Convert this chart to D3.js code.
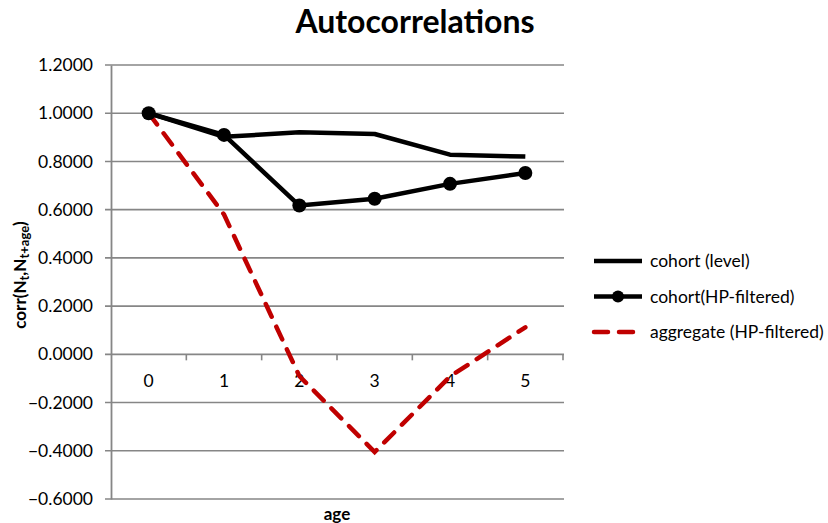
<!DOCTYPE html>
<html>
<head>
<meta charset="utf-8">
<script src="https://cdn.jsdelivr.net/npm/d3@7/dist/d3.min.js"></script>
<style>
  html, body { margin: 0; padding: 0; background: #fff; }
  svg { display: block; font-family: Lato, "Open Sans", sans-serif; }
</style>
</head>
<body>
<svg id="chart" width="828" height="523"></svg>
<script>
// Autocorrelation of N_t with N_{t+age}, by age
const ages = [0, 1, 2, 3, 4, 5];
const cohortLevel = [1.0, 0.902, 0.921, 0.914, 0.828, 0.820];
const cohortHP = [1.0, 0.910, 0.617, 0.645, 0.707, 0.752];
const aggregateHP = [1.0, 0.580, -0.090, -0.405, -0.092, 0.112];
const yTicks = [-0.6, -0.4, -0.2, 0.0, 0.2, 0.4, 0.6, 0.8, 1.0, 1.2];

const svg = d3.select("#chart");
const plotLeft = 111, plotRight = 563, plotTop = 65, plotBottom = 499;

const x = d3.scaleBand().domain(ages).range([plotLeft, plotRight]).paddingInner(0).paddingOuter(0);
const y = d3.scaleLinear().domain([-0.6, 1.2]).range([plotBottom, plotTop]);
const cx = d => x(d) + x.bandwidth() / 2;

const grey = "#868686";
const tickFont = 17.5;

// horizontal gridlines
svg.append("g")
  .selectAll("line")
  .data(yTicks)
  .join("line")
  .attr("x1", plotLeft - 6).attr("x2", plotRight + 1)
  .attr("y1", d => y(d)).attr("y2", d => y(d))
  .attr("stroke", grey).attr("stroke-width", 1.6);

// y axis
const yAxis = d3.axisLeft(y).tickValues(yTicks).tickFormat(d3.format(".4f")).tickSize(0).tickPadding(18);
const gy = svg.append("g").attr("transform", `translate(${plotLeft},0)`).call(yAxis);
gy.select(".domain").attr("stroke", grey).attr("stroke-width", 1.8);
gy.selectAll("text").attr("font-size", tickFont).attr("fill", "#000").attr("font-family", "Lato, sans-serif");

// x axis on the zero line
const xAxis = d3.axisBottom(x).tickSize(0).tickPadding(20);
const gx = svg.append("g").attr("transform", `translate(0,${y(0)})`).call(xAxis);
gx.select(".domain").remove();
gx.selectAll("text").attr("font-size", tickFont).attr("fill", "#000").attr("font-family", "Lato, sans-serif");
// category boundary ticks
const bounds = ages.slice(1).map(a => x(a)).concat([plotRight]);
svg.append("g").selectAll("line").data(bounds).join("line")
  .attr("x1", d => d).attr("x2", d => d)
  .attr("y1", y(0)).attr("y2", y(0) + 6)
  .attr("stroke", grey).attr("stroke-width", 1.6);

const line = d3.line().x((d, i) => cx(ages[i])).y(d => y(d));

// aggregate (HP-filtered)
svg.append("path").datum(aggregateHP).attr("d", line)
  .attr("fill", "none").attr("stroke", "#c00000").attr("stroke-width", 4.5)
  .attr("stroke-dasharray", "14,11").attr("stroke-linecap", "round");

// cohort (level)
svg.append("path").datum(cohortLevel).attr("d", line)
  .attr("fill", "none").attr("stroke", "#000").attr("stroke-width", 4.5).attr("stroke-linejoin", "round");

// cohort (HP-filtered)
svg.append("path").datum(cohortHP).attr("d", line)
  .attr("fill", "none").attr("stroke", "#000").attr("stroke-width", 4.5).attr("stroke-linejoin", "round");
svg.append("g").selectAll("circle").data(cohortHP).join("circle")
  .attr("cx", (d, i) => cx(ages[i])).attr("cy", d => y(d)).attr("r", 7).attr("fill", "#000");

// title
svg.append("text").attr("x", 415).attr("y", 33).attr("text-anchor", "middle")
  .attr("font-size", 32).attr("font-weight", "bold").text("Autocorrelations");

// axis titles
svg.append("text").attr("x", 337).attr("y", 520).attr("text-anchor", "middle")
  .attr("font-size", 17).attr("font-weight", "bold").text("age");

const yt = svg.append("text").attr("transform", "translate(26,275) rotate(-90)")
  .attr("text-anchor", "middle").attr("font-size", 17).attr("font-weight", "bold");
yt.append("tspan").text("corr(N");
yt.append("tspan").attr("font-size", 13).attr("dy", 3).text("t");
yt.append("tspan").attr("dy", -3).text(",N");
yt.append("tspan").attr("font-size", 13).attr("dy", 3).text("t+age");
yt.append("tspan").attr("dy", -3).text(")");

// legend
const legend = [
  { name: "cohort (level)", color: "#000", dash: null, marker: false },
  { name: "cohort(HP-filtered)", color: "#000", dash: null, marker: true },
  { name: "aggregate (HP-filtered)", color: "#c00000", dash: "14,11", marker: false }
];
const lg = svg.append("g");
legend.forEach((s, i) => {
  const ly = 261 + i * 35.5;
  lg.append("line").attr("x1", 594).attr("x2", 642).attr("y1", ly).attr("y2", ly)
    .attr("stroke", s.color).attr("stroke-width", 4.5)
    .attr("stroke-dasharray", s.dash).attr("stroke-linecap", s.dash ? "round" : "butt");
  if (s.marker) lg.append("circle").attr("cx", 618).attr("cy", ly).attr("r", 6).attr("fill", "#000");
  lg.append("text").attr("x", 650).attr("y", ly + 6).attr("font-size", 17.5).text(s.name);
});
</script>
</body>
</html>
